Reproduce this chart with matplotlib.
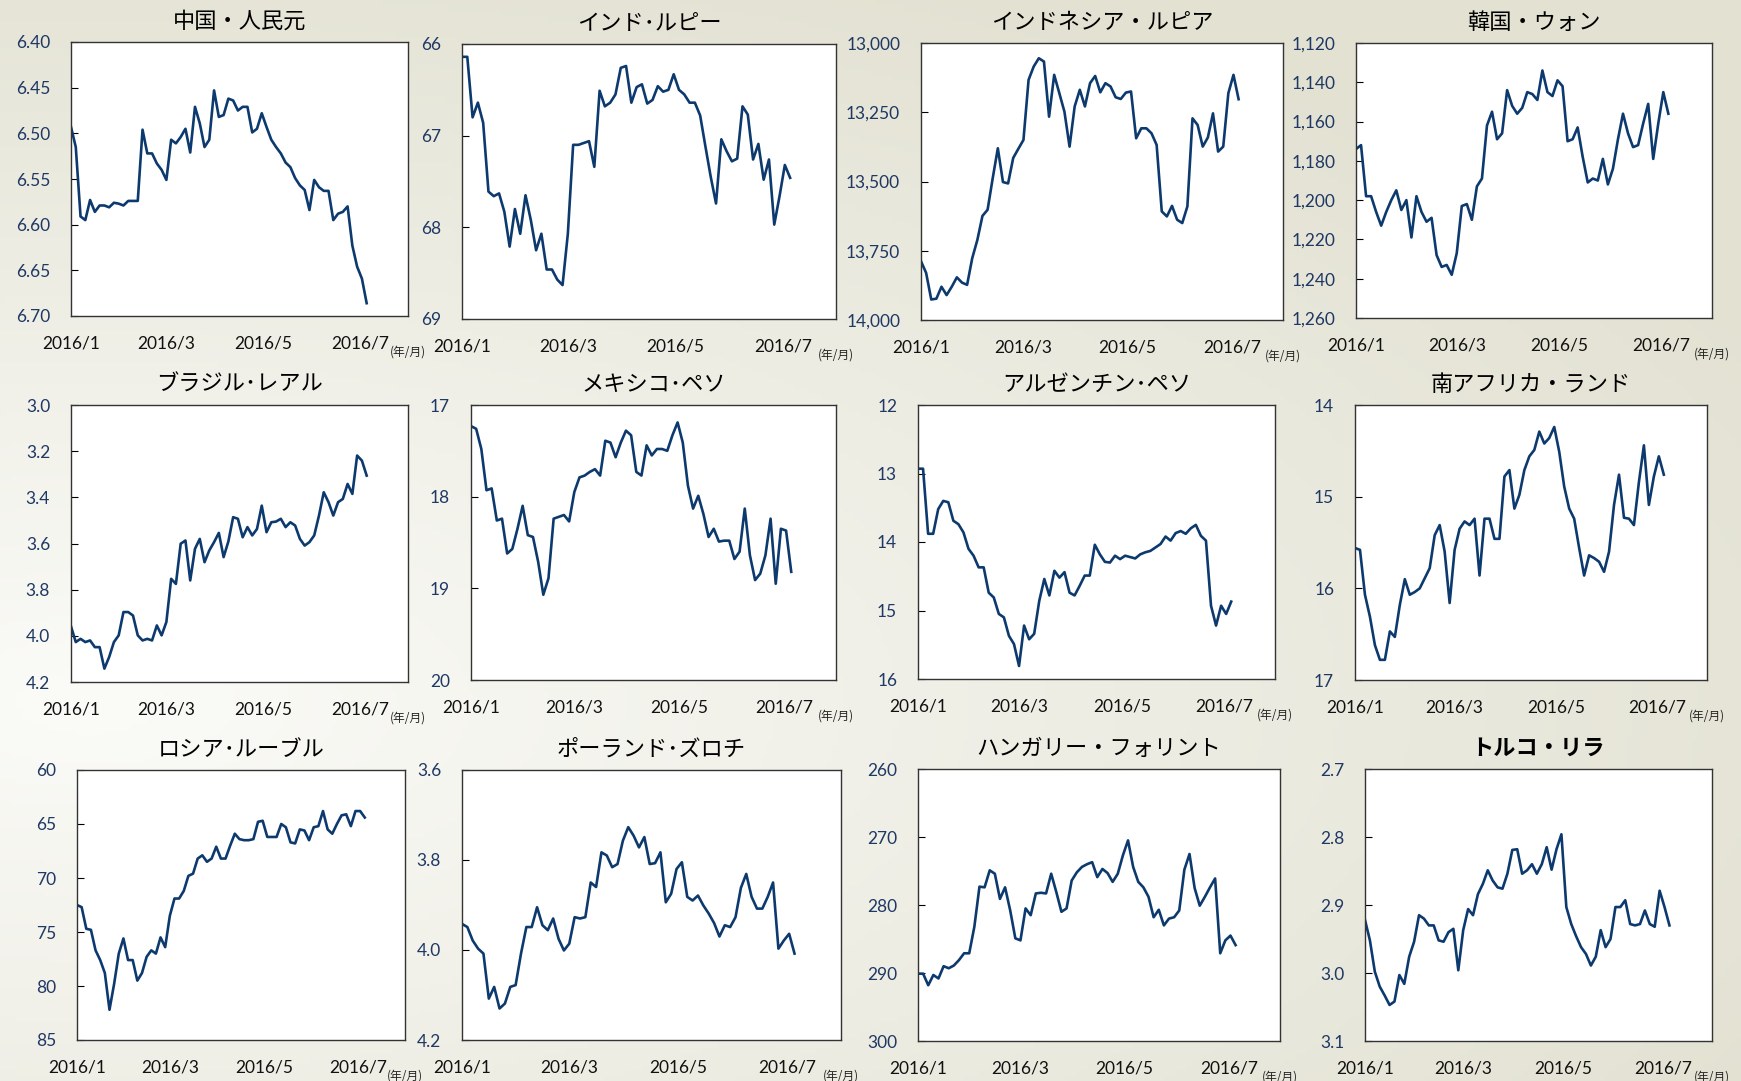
import numpy as np
import pandas as pd
import matplotlib
matplotlib.use("Agg")
import matplotlib.pyplot as plt
import matplotlib.ticker as mticker

plt.rcParams["font.family"] = ["Lato", "Noto Sans CJK JP", "DejaVu Sans"]

# 2016/1/1 から 3日おき (63点)
dates = pd.date_range("2016-01-01", periods=63, freq="3D")

cny = [6.493, 6.515, 6.591, 6.595, 6.573, 6.586, 6.579, 6.579, 6.581, 6.576,
       6.577, 6.579, 6.574, 6.574, 6.574, 6.496, 6.522, 6.522, 6.533, 6.540,
       6.551, 6.507, 6.511, 6.504, 6.495, 6.521, 6.471, 6.489, 6.515, 6.507,
       6.453, 6.482, 6.480, 6.462, 6.464, 6.475, 6.471, 6.471, 6.499, 6.495,
       6.478, 6.493, 6.507, 6.515, 6.522, 6.532, 6.537, 6.549, 6.557, 6.562,
       6.584, 6.551, 6.559, 6.563, 6.563, 6.595, 6.588, 6.586, 6.580, 6.623,
       6.646, 6.659, 6.686]
inr = [66.14, 66.14, 66.80, 66.64, 66.86, 67.61, 67.66, 67.63, 67.83, 68.21,
       67.80, 68.07, 67.65, 67.92, 68.25, 68.07, 68.46, 68.46, 68.57, 68.63,
       68.07, 67.10, 67.10, 67.08, 67.06, 67.34, 66.51, 66.68, 66.64, 66.55,
       66.26, 66.24, 66.64, 66.47, 66.44, 66.65, 66.61, 66.46, 66.52, 66.50,
       66.33, 66.50, 66.55, 66.64, 66.64, 66.78, 67.12, 67.45, 67.74, 67.04,
       67.17, 67.28, 67.25, 66.68, 66.77, 67.26, 67.09, 67.48, 67.26, 67.97,
       67.66, 67.32, 67.46]
idr = [13788, 13830, 13926, 13923, 13880, 13910, 13880, 13846, 13865, 13873,
       13777, 13711, 13624, 13602, 13488, 13380, 13502, 13507, 13415, 13382,
       13350, 13133, 13085, 13055, 13067, 13266, 13115, 13181, 13248, 13374,
       13229, 13169, 13229, 13145, 13119, 13178, 13145, 13157, 13196, 13202,
       13179, 13175, 13344, 13308, 13308, 13326, 13368, 13608, 13626, 13588,
       13638, 13650, 13590, 13272, 13296, 13374, 13341, 13254, 13392, 13374,
       13181, 13115, 13203]
krw = [1174, 1172, 1198, 1198, 1206, 1213, 1206, 1200, 1195, 1205,
       1200, 1219, 1198, 1206, 1211, 1209, 1228, 1234, 1233, 1238,
       1227, 1203, 1202, 1210, 1193, 1189, 1162, 1155, 1169, 1166,
       1144, 1152, 1156, 1153, 1145, 1146, 1149, 1134, 1145, 1147,
       1139, 1142, 1170, 1169, 1163, 1178, 1191, 1189, 1190, 1179,
       1192, 1184, 1169, 1156, 1166, 1173, 1172, 1161, 1151, 1179,
       1161, 1145, 1156]
brl = [3.959, 4.027, 4.013, 4.027, 4.020, 4.049, 4.049, 4.142, 4.092, 4.027,
       3.998, 3.897, 3.897, 3.912, 3.998, 4.020, 4.013, 4.020, 3.955, 3.998,
       3.940, 3.753, 3.775, 3.601, 3.587, 3.760, 3.623, 3.580, 3.681, 3.630,
       3.594, 3.554, 3.659, 3.591, 3.486, 3.493, 3.573, 3.529, 3.565, 3.537,
       3.436, 3.551, 3.508, 3.505, 3.493, 3.529, 3.508, 3.522, 3.580, 3.609,
       3.594, 3.565, 3.479, 3.378, 3.421, 3.479, 3.421, 3.407, 3.342, 3.385,
       3.219, 3.241, 3.306]
mxn = [17.23, 17.26, 17.48, 17.93, 17.91, 18.26, 18.24, 18.62, 18.57, 18.35,
       18.10, 18.42, 18.44, 18.71, 19.07, 18.89, 18.24, 18.22, 18.20, 18.27,
       17.95, 17.79, 17.77, 17.73, 17.70, 17.77, 17.39, 17.41, 17.57, 17.41,
       17.28, 17.33, 17.73, 17.77, 17.44, 17.55, 17.48, 17.48, 17.50, 17.33,
       17.19, 17.41, 17.88, 18.13, 17.99, 18.19, 18.44, 18.35, 18.49, 18.48,
       18.48, 18.68, 18.60, 18.13, 18.64, 18.91, 18.84, 18.64, 18.24, 18.95,
       18.35, 18.37, 18.82]
ars = [12.93, 12.93, 13.88, 13.88, 13.52, 13.40, 13.42, 13.69, 13.74, 13.86,
       14.10, 14.20, 14.37, 14.37, 14.74, 14.81, 15.05, 15.10, 15.37, 15.49,
       15.81, 15.22, 15.42, 15.34, 14.86, 14.54, 14.78, 14.42, 14.52, 14.44,
       14.74, 14.78, 14.64, 14.49, 14.49, 14.04, 14.18, 14.29, 14.30, 14.20,
       14.25, 14.20, 14.22, 14.24, 14.18, 14.15, 14.13, 14.08, 14.03, 13.92,
       13.98, 13.87, 13.84, 13.88, 13.80, 13.75, 13.91, 13.98, 14.93, 15.22,
       14.93, 15.05, 14.87]
zar = [15.56, 15.58, 16.07, 16.31, 16.62, 16.78, 16.78, 16.47, 16.53, 16.18,
       15.90, 16.07, 16.04, 16.00, 15.89, 15.78, 15.42, 15.31, 15.60, 16.16,
       15.58, 15.35, 15.27, 15.31, 15.24, 15.86, 15.24, 15.24, 15.46, 15.46,
       14.78, 14.71, 15.13, 14.98, 14.71, 14.56, 14.49, 14.29, 14.42, 14.36,
       14.24, 14.51, 14.89, 15.13, 15.24, 15.56, 15.86, 15.64, 15.67, 15.71,
       15.82, 15.60, 15.09, 14.76, 15.23, 15.24, 15.31, 14.84, 14.44, 15.09,
       14.78, 14.56, 14.76]
rub = [72.5, 72.7, 74.7, 74.8, 76.7, 77.6, 78.8, 82.2, 79.8, 77.0,
       75.6, 77.6, 77.6, 79.5, 78.8, 77.3, 76.7, 77.0, 75.5, 76.4,
       73.5, 71.9, 71.9, 71.2, 69.8, 69.6, 68.2, 67.9, 68.5, 68.2,
       67.1, 68.2, 68.2, 67.0, 65.9, 66.4, 66.5, 66.5, 66.4, 64.8,
       64.7, 66.2, 66.2, 66.2, 65.0, 65.3, 66.7, 66.8, 65.5, 65.6,
       66.5, 65.3, 65.2, 63.8, 65.5, 65.9, 65.0, 64.2, 64.1, 65.2,
       63.8, 63.8, 64.4]
pln = [3.942, 3.949, 3.979, 3.997, 4.008, 4.108, 4.082, 4.130, 4.119, 4.082,
       4.078, 4.008, 3.949, 3.949, 3.905, 3.945, 3.956, 3.930, 3.975, 4.001,
       3.986, 3.927, 3.930, 3.927, 3.850, 3.860, 3.783, 3.790, 3.816, 3.809,
       3.757, 3.727, 3.746, 3.772, 3.749, 3.809, 3.807, 3.783, 3.894, 3.875,
       3.820, 3.805, 3.882, 3.890, 3.879, 3.901, 3.919, 3.940, 3.970, 3.945,
       3.949, 3.927, 3.862, 3.831, 3.882, 3.908, 3.908, 3.882, 3.850, 3.997,
       3.979, 3.964, 4.008]
huf = [290.1, 290.1, 291.8, 290.3, 290.8, 289.0, 289.3, 288.9, 288.1, 287.1,
       287.1, 283.2, 277.3, 277.4, 274.9, 275.4, 279.1, 277.4, 280.8, 284.9,
       285.2, 280.5, 281.5, 278.3, 278.2, 278.3, 275.4, 278.1, 281.0, 280.5,
       276.4, 275.2, 274.4, 274.0, 273.7, 275.9, 274.7, 275.3, 276.6, 275.4,
       272.7, 270.5, 274.4, 276.6, 277.4, 278.8, 281.8, 280.7, 283.0, 282.0,
       281.8, 280.8, 274.8, 272.5, 277.5, 280.1, 278.8, 277.4, 276.1, 287.1,
       285.2, 284.5, 285.9]
tryl = [2.922, 2.952, 2.998, 3.020, 3.033, 3.047, 3.042, 3.003, 3.016, 2.976,
        2.954, 2.915, 2.920, 2.930, 2.930, 2.952, 2.954, 2.940, 2.935, 2.996,
        2.937, 2.906, 2.915, 2.884, 2.869, 2.849, 2.864, 2.874, 2.876, 2.854,
        2.819, 2.818, 2.854, 2.849, 2.840, 2.854, 2.840, 2.815, 2.848, 2.818,
        2.796, 2.903, 2.928, 2.946, 2.962, 2.972, 2.989, 2.976, 2.937, 2.962,
        2.950, 2.903, 2.903, 2.893, 2.928, 2.930, 2.928, 2.908, 2.928, 2.932,
        2.879, 2.903, 2.930]

titles = ["中国・人民元", "インド･ルピー", "インドネシア・ルピア", "韓国・ウォン",
          "ブラジル･レアル", "メキシコ･ペソ", "アルゼンチン･ペソ", "南アフリカ・ランド",
          "ロシア･ルーブル", "ポーランド･ズロチ", "ハンガリー・フォリント", "トルコ・リラ"]
series = [cny, inr, idr, krw, brl, mxn, ars, zar, rub, pln, huf, tryl]
# (上端, 下端, 目盛り間隔) 軸は反転
yranges = [(6.40, 6.70, 0.05), (66, 69, 1), (13000, 14000, 250), (1120, 1260, 20),
           (3.0, 4.2, 0.2), (17, 20, 1), (12, 16, 1), (14, 17, 1),
           (60, 85, 5), (3.6, 4.2, 0.2), (260, 300, 10), (2.7, 3.1, 0.1)]
yfmts = ["{:.2f}", "{:.0f}", "{:,.0f}", "{:,.0f}",
         "{:.1f}", "{:.0f}", "{:.0f}", "{:.0f}",
         "{:.0f}", "{:.1f}", "{:.0f}", "{:.1f}"]
xticks = ["2016-01-01", "2016-03-01", "2016-05-01", "2016-07-01"]
xlabels = ["2016/1", "2016/3", "2016/5", "2016/7"]

# パネル位置 (px: 左, 上, 右, 下)
boxes = [(71, 42, 408, 316), (462, 44, 836, 319), (921, 43, 1283, 320), (1356, 43, 1712, 318),
         (71, 405, 408, 682), (471, 405, 836, 680), (918, 405, 1275, 679), (1355, 405, 1707, 680),
         (77, 770, 405, 1040), (462, 770, 841, 1040), (918, 769, 1280, 1041), (1365, 769, 1712, 1041)]

W, H = 1741, 1081
fig = plt.figure(figsize=(W / 100, H / 100), dpi=100)

# 背景グラデーション
bg = fig.add_axes([0, 0, 1, 1], zorder=-10)
yy, xx = np.mgrid[0:1:200j, 0:1:320j]
r = np.clip(np.sqrt(((xx - 0.05) / 1.1) ** 2 + ((yy - 0.65) / 0.75) ** 2), 0, 1)
inner = np.array([251, 251, 248]) / 255
outer = np.array([226, 225, 210]) / 255
img = inner + (outer - inner) * r[..., None]
bg.imshow(img, extent=[0, 1, 0, 1], aspect="auto", origin="upper")
bg.axis("off")

line_color = "#0D3A6E"
tick_color = "#1F3864"

for i in range(12):
    l, t, rgt, b = boxes[i]
    ax = fig.add_axes([l / W, 1 - b / H, (rgt - l) / W, (b - t) / H])
    ax.plot(dates, series[i], color=line_color, lw=1.9)
    top, bot, step = yranges[i]
    ticks = np.arange(top, bot + step / 2, step)
    ax.set_ylim(bot, top)
    ax.yaxis.set_major_locator(mticker.FixedLocator(ticks))
    fmt = yfmts[i]
    ax.yaxis.set_major_formatter(mticker.FuncFormatter(lambda v, p, f=fmt: f.format(v)))
    ax.set_xlim(pd.Timestamp("2016-01-01"), pd.Timestamp("2016-07-31"))
    ax.set_xticks(pd.to_datetime(xticks))
    ax.set_xticklabels(xlabels)
    ax.tick_params(axis="y", direction="in", length=5, width=0.8, pad=15,
                   labelsize=12.5, labelcolor=tick_color)
    ax.tick_params(axis="x", length=0, pad=14, labelsize=12.5, labelcolor="#111111")
    for s in ax.spines.values():
        s.set_color("#333333")
        s.set_linewidth(1.0)
    ax.set_facecolor("white")
    weight = "bold" if i == 11 else "normal"
    ax.set_title(titles[i], fontsize=16, family=["Noto Sans CJK JP"], fontweight=weight, pad=10)
    ax.annotate("(年/月)", xy=(1.0, 0), xycoords="axes fraction", xytext=(0, -26),
                textcoords="offset points", ha="center", va="center", fontsize=8.5,
                family=["Noto Sans CJK JP"], color="#222222")

fig.savefig("out.png", dpi=100)
